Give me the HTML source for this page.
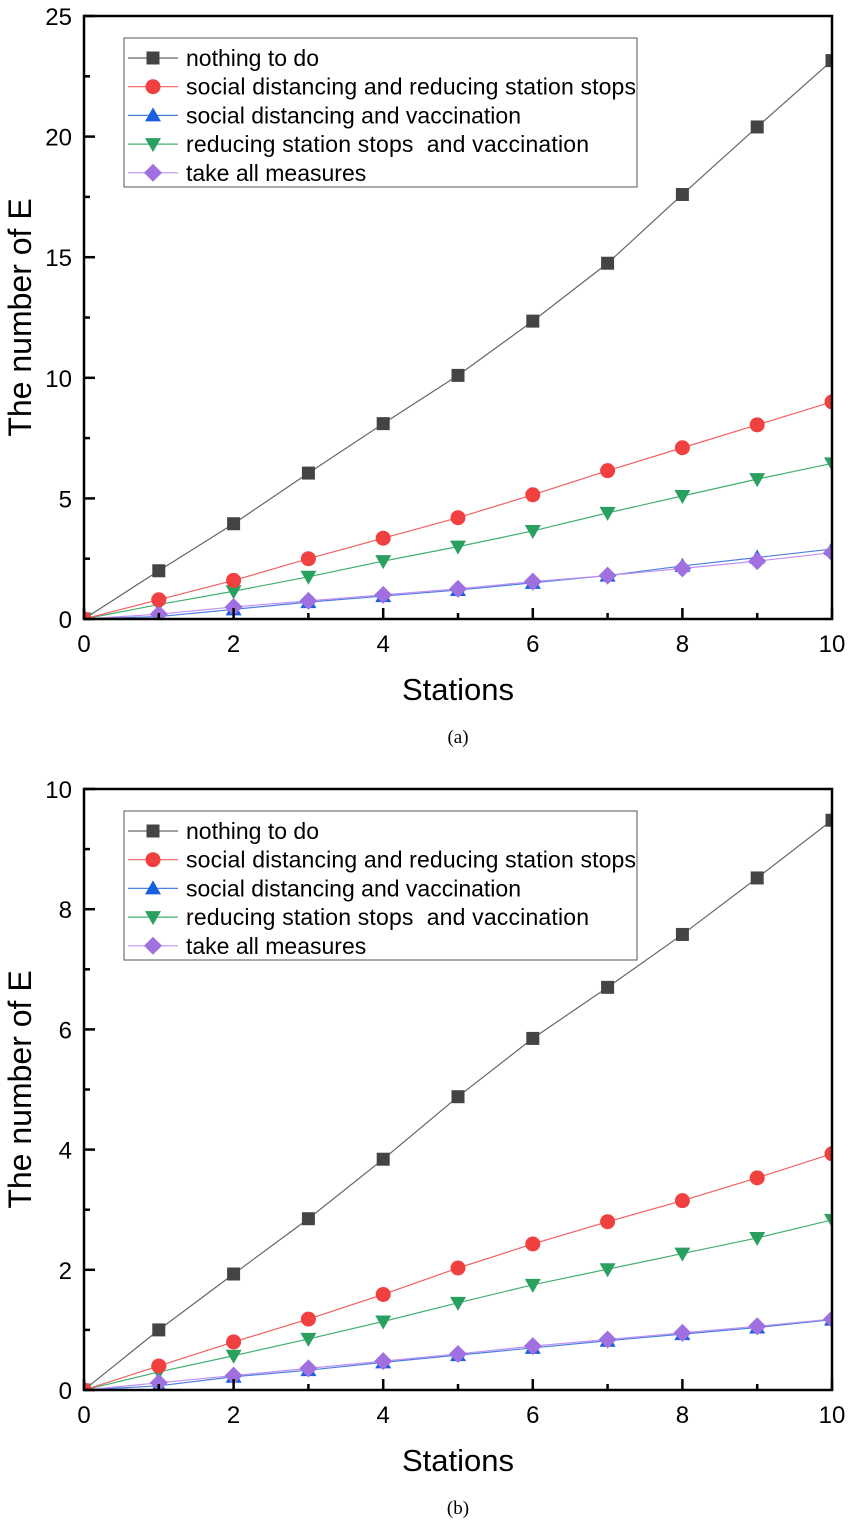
<!DOCTYPE html>
<html><head><meta charset="utf-8"><style>
body{margin:0;background:#fff;width:851px;height:1526px;overflow:hidden}
svg{display:block;font-family:"Liberation Sans",Arial,sans-serif}
text{white-space:pre}
</style></head><body>
<svg id="s" width="851" height="1526" viewBox="0 0 851 1526"></svg>
<script>
const xs=[0,1,2,3,4,5,6,7,8,9,10];
const names=["nothing to do","social distancing and reducing station stops","social distancing and vaccination","reducing station stops  and vaccination","take all measures"];
const aNothing=[0,2.0,3.95,6.05,8.1,10.1,12.35,14.75,17.6,20.4,23.15];
const aSocialReduce=[0,0.8,1.6,2.5,3.35,4.2,5.15,6.15,7.1,8.05,9.0];
const aSocialVacc=[0,0.1,0.4,0.7,0.95,1.2,1.5,1.8,2.2,2.55,2.9];
const aReduceVacc=[0,0.6,1.15,1.75,2.4,3.0,3.65,4.4,5.1,5.8,6.45];
const aAll=[0,0.2,0.5,0.75,1.0,1.25,1.55,1.8,2.1,2.4,2.75];
const bNothing=[0,1.0,1.93,2.85,3.84,4.88,5.85,6.7,7.58,8.52,9.48];
const bSocialReduce=[0,0.4,0.8,1.18,1.59,2.03,2.43,2.8,3.15,3.53,3.93];
const bSocialVacc=[0,0.07,0.22,0.33,0.46,0.58,0.7,0.82,0.93,1.04,1.17];
const bReduceVacc=[0,0.3,0.57,0.85,1.14,1.45,1.75,2.01,2.27,2.53,2.83];
const bAll=[0,0.12,0.24,0.36,0.48,0.6,0.73,0.84,0.95,1.06,1.18];
const xTicks=[0,2,4,6,8,10];
const aYTicks=[0,5,10,15,20,25];
const bYTicks=[0,2,4,6,8,10];
const colors=["#444","#f04040","#1a5fe0","#2aa060","#a070e0"];
const lineCols=["#666","#f06060","#4a80e0","#40b070","#c090f0"];
const NS="http://www.w3.org/2000/svg";
const svg=document.getElementById('s');
function el(t,a,p){const e=document.createElementNS(NS,t);for(const k in a)if(a[k]!==null)e.setAttribute(k,a[k]);(p||svg).appendChild(e);return e;}
function marker(g,k,cx,cy){
  let e;
  if(k==0)e=el('rect',{x:cx-6.5,y:cy-6.5,width:13,height:13,fill:colors[0]},g);
  else if(k==1)e=el('circle',{cx:cx,cy:cy,r:7.5,fill:colors[1]},g);
  else if(k==2)e=el('polygon',{points:`${cx},${cy-8} ${cx+8},${cy+6} ${cx-8},${cy+6}`,fill:colors[2]},g);
  else if(k==3)e=el('polygon',{points:`${cx},${cy+8} ${cx+8},${cy-6} ${cx-8},${cy-6}`,fill:colors[3]},g);
  else e=el('polygon',{points:`${cx},${cy-9} ${cx+9},${cy} ${cx},${cy+9} ${cx-9},${cy}`,fill:colors[4]},g);
  return e;
}
function chart(id,top,bottom,ymax,yTicks,series,cap,capY,minorStep){
  const L=84,R=832;
  const g=el('g',{});
  
  
  const X=v=>L+(R-L)*v/10, Y=v=>bottom-(bottom-top)*v/ymax;
  const cp=el('clipPath',{id:'c'+id},g);el('rect',{x:L,y:top,width:R-L,height:bottom-top},cp);
  const plot=el('g',{'clip-path':`url(#c${id})`},g);
  
  
  [0,3,2,4,1].forEach(k=>{
    const sg=el('g',{},plot);
    
    
    el('polyline',{points:xs.map((x,i)=>X(x)+','+Y(series[k][i])).join(' '),fill:'none',stroke:lineCols[k],'stroke-width':1.2},sg);
    xs.forEach((x,i)=>{const m=marker(sg,k,X(x),Y(series[k][i]));
      
      });
  });
  el('rect',{x:L,y:top,width:R-L,height:bottom-top,fill:'none',stroke:'#000','stroke-width':2.5},g);
  for(let v=0;v<=10;v++){const x=X(v);el('line',{x1:x,x2:x,y1:bottom,y2:bottom-(v%2?6:11),stroke:'#000','stroke-width':2.5},g);}
  xTicks.forEach(v=>{const t=el('text',{x:X(v),y:bottom+33,'text-anchor':'middle','font-size':24},g);t.textContent=v;
    });
  for(let v=0;v<=ymax+1e-9;v+=minorStep){const y=Y(v);const major=yTicks.some(t=>Math.abs(t-v)<1e-9);el('line',{x1:L,x2:L+(major?11:6),y1:y,y2:y,stroke:'#000','stroke-width':2.5},g);}
  yTicks.forEach(v=>{const t=el('text',{x:L-12,y:Y(v)+9,'text-anchor':'end','font-size':24},g);t.textContent=v;
    });
  const xt=el('text',{x:(L+R)/2,y:bottom+81,'text-anchor':'middle','font-size':31},g);xt.textContent='Stations';
  
  const cy=(top+bottom)/2;
  const yt=el('text',{x:31,y:cy,'text-anchor':'middle','font-size':32,transform:`rotate(-90 31 ${cy})`},g);yt.textContent='The number of E';
  
  const lg=el('g',{},g);
  
  const ly=top+22;
  el('rect',{x:124,y:ly,width:513,height:149,fill:'#fff',stroke:'#555','stroke-width':1},lg);
  names.forEach((n,k)=>{const yy=ly+20+k*28.7;
    const e=el('g',{},lg);
    
    el('line',{x1:128,x2:178,y1:yy,y2:yy,stroke:lineCols[k],'stroke-width':1.2},e);
    marker(e,k,153,yy);
    const t=el('text',{x:186,y:yy+8,'font-size':23,textLength:k==1?450:(k==3?403:null)},e);t.textContent=n;});
  const c=el('text',{x:458,y:capY,'text-anchor':'middle','font-size':19,'font-family':'Liberation Serif,serif'},g);c.textContent=cap;
  
}
chart('a',16,619,25,aYTicks,[aNothing,aSocialReduce,aSocialVacc,aReduceVacc,aAll],'(a)',743,2.5);
chart('b',789,1390,10,bYTicks,[bNothing,bSocialReduce,bSocialVacc,bReduceVacc,bAll],'(b)',1514,1);
</script>
</body></html>
